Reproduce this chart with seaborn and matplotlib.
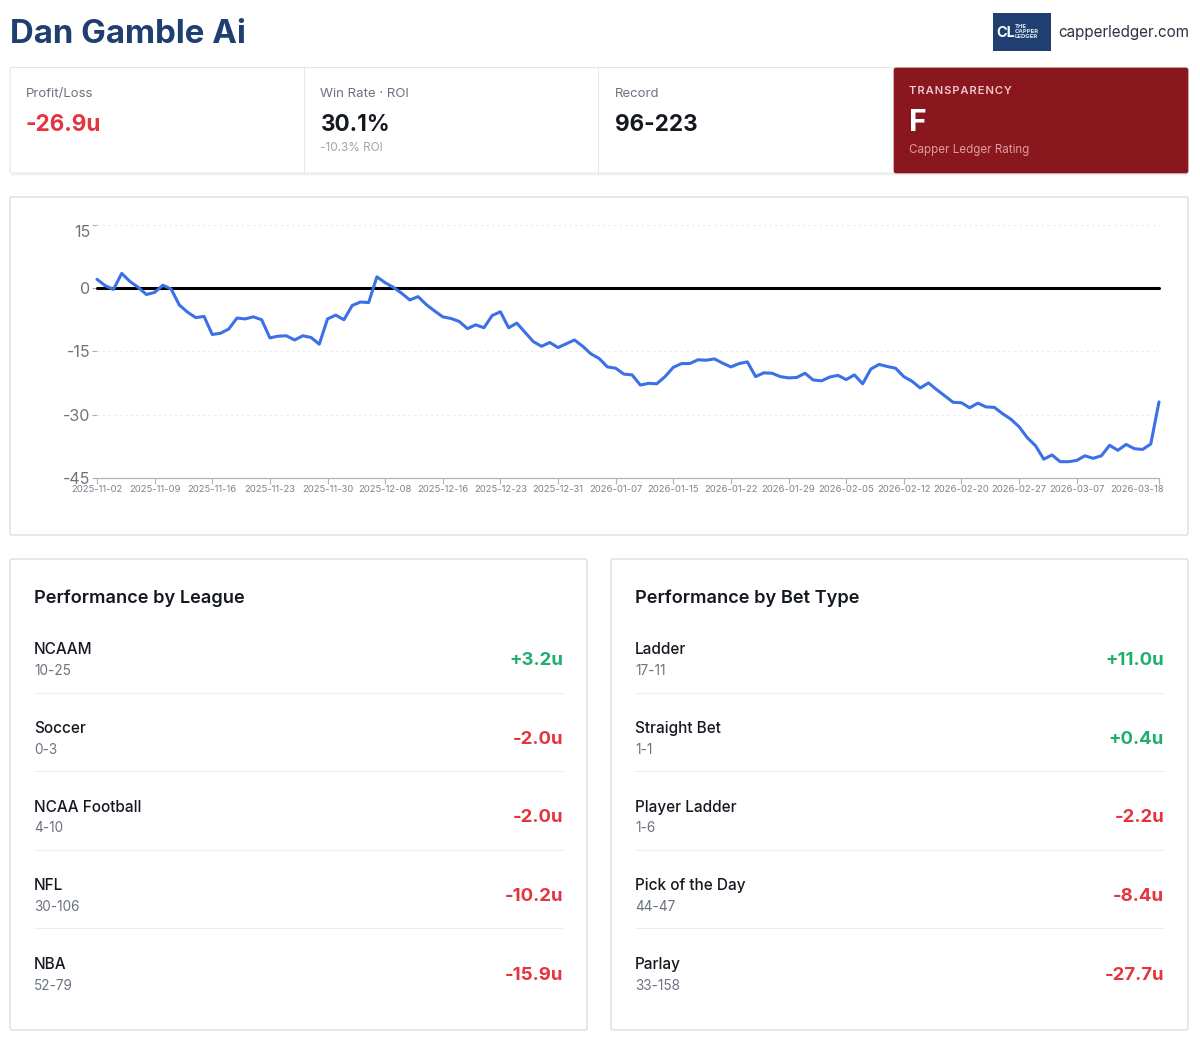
import numpy as np
import pandas as pd
import matplotlib
matplotlib.use("Agg")
import matplotlib.pyplot as plt
from matplotlib.patches import FancyBboxPatch, Rectangle
from matplotlib.transforms import ScaledTranslation
import seaborn as sns

# cumulative units, one point per bet day
units = [2.1, 0.6, -0.3, 3.5, 1.6, 0.2, -1.5, -1.0, 0.7, -0.2,
         -4.0, -5.7, -7.0, -6.7, -11.0, -10.7, -9.7, -7.1, -7.3, -6.8,
         -7.5, -11.8, -11.4, -11.3, -12.3, -11.3, -11.7, -13.3, -7.3, -6.4,
         -7.5, -4.1, -3.3, -3.4, 2.7, 1.3, 0.2, -1.2, -2.8, -2.0,
         -3.9, -5.4, -6.8, -7.2, -7.9, -9.6, -8.7, -9.4, -6.5, -5.6,
         -9.4, -8.3, -10.5, -12.7, -13.8, -12.9, -14.1, -13.2, -12.3, -13.8,
         -15.6, -16.7, -18.7, -19.0, -20.4, -20.6, -23.0, -22.6, -22.7, -21.0,
         -18.8, -17.9, -17.9, -17.0, -17.1, -16.8, -17.8, -18.7, -17.9, -17.5,
         -21.0, -20.1, -20.2, -21.0, -21.3, -21.2, -20.2, -21.8, -22.0, -21.1,
         -20.7, -21.7, -20.6, -22.7, -19.2, -18.1, -18.6, -19.0, -21.0, -22.1,
         -23.7, -22.5, -24.1, -25.6, -27.1, -27.2, -28.4, -27.3, -28.2, -28.3,
         -29.8, -31.1, -32.9, -35.5, -37.4, -40.6, -39.6, -41.2, -41.2, -40.9,
         -39.8, -40.4, -39.8, -37.3, -38.5, -37.1, -38.1, -38.3, -37.0, -27.0]
date_ticks = ["2025-11-02", "2025-11-09", "2025-11-16", "2025-11-23", "2025-11-30",
              "2025-12-08", "2025-12-16", "2025-12-23", "2025-12-31", "2026-01-07",
              "2026-01-15", "2026-01-22", "2026-01-29", "2026-02-05", "2026-02-12",
              "2026-02-20", "2026-02-27", "2026-03-07", "2026-03-18"]
date_tick_idx = [0, 7, 14, 21, 28, 35, 42, 49, 56, 63, 70, 77, 84, 91, 98, 105, 112, 119, 129]
y_ticks = [15, 0, -15, -30, -45]

league_names = ["NCAAM", "Soccer", "NCAA Football", "NFL", "NBA"]
league_records = ["10-25", "0-3", "4-10", "30-106", "52-79"]
league_units = [3.2, -2.0, -2.0, -10.2, -15.9]

bet_names = ["Ladder", "Straight Bet", "Player Ladder", "Pick of the Day", "Parlay"]
bet_records = ["17-11", "1-1", "1-6", "44-47", "33-158"]
bet_units = [11.0, 0.4, -2.2, -8.4, -27.7]

NAVY = "#1e3f70"
RED = "#e5343f"
GREEN = "#1fae6e"
DARK = "#14181f"
GRAY = "#6b7280"
LIGHT = "#9ca3af"
BORDER = "#d4d7dc"

sns.set_theme(style="white")
plt.rcParams["font.family"] = ["Inter", "DejaVu Sans"]
plt.rcParams["axes.unicode_minus"] = False

fig = plt.figure(figsize=(12, 10.41), dpi=100, facecolor="white")

# whole page in pixel coordinates
bg = fig.add_axes([0, 0, 1, 1])
bg.set_xlim(0, 1200)
bg.set_ylim(1041, 0)
bg.axis("off")


def px(size):
    return size * 0.72


def card(x0, y0, x1, y1, edge=BORDER, face="white", lw=0.75, z=1):
    p = FancyBboxPatch((x0, y0), x1 - x0, y1 - y0, boxstyle="round,pad=0,rounding_size=2",
                       fc=face, ec=edge, lw=lw, zorder=z)
    bg.add_patch(p)


def label(x, y, s, size, color, weight="normal", ha="left", spacing=1.2):
    # inter sits a little high when centred, nudge it down
    bg.text(x, y + size * 0.09, s, fontsize=px(size), color=color, fontweight=weight,
            ha=ha, va="center", zorder=3, linespacing=spacing)


# header
label(10, 32, "Dan Gamble Ai", 33, NAVY, "bold")
bg.add_patch(Rectangle((993, 13), 58, 38, fc=NAVY, ec="none"))
label(996, 31.5, "CL", 14.5, "white", "bold")
label(1014.5, 31, "THE\nCAPPER\nLEDGER", 6, "#dfe6f0", "bold", spacing=0.95)
label(1058, 31, "capperledger.com", 15.2, "#2b3340")

# stat strip
card(10, 67.5, 1188, 173, edge="#e3e5e8")
bg.plot([10.5, 1187], [173.8, 173.8], color="#eceef0", lw=1, zorder=0)
for xx in [304, 598]:
    bg.plot([xx, xx], [68, 172.5], color="#e5e7eb", lw=0.75, zorder=2)
card(894, 68, 1188, 173, edge="#8a161e", face="#8a161e", lw=0.5, z=2)

label(26, 93, "Profit/Loss", 13.2, GRAY)
label(25.5, 122.5, "-26.9u", 22.5, RED, "bold")
label(320.5, 93, "Win Rate · ROI", 13.2, GRAY)
label(320.5, 122.5, "30.1%", 22.5, DARK, "bold")
label(320.5, 147, "-10.3% ROI", 11.7, LIGHT)
label(614.5, 93, "Record", 13.2, GRAY)
label(614.5, 122.5, "96-223", 22.5, DARK, "bold")
label(909, 90, "\u200a".join("TRANSPARENCY"), 11.2, "#eec9cb", "semibold")
label(909, 120.5, "F", 30, "white", "bold")
label(909, 148.5, "Capper Ledger Rating", 11.6, "#dc9ea2")

# chart
card(10, 197, 1188, 535, edge="#d0d3d8")
ax = fig.add_axes([97 / 1200, 1 - 477.7 / 1041, (1159 - 97) / 1200, (477.7 - 225) / 1041])
ax.patch.set_alpha(0)

pl = pd.DataFrame({"idx": np.arange(len(units)), "units": units})
for t in [15, -15, -30]:
    ax.axhline(t, color="#e9ebee", lw=0.8, ls=(0, (2, 3)), zorder=1)
zero = pd.DataFrame({"idx": [pl["idx"].min(), pl["idx"].max()], "units": [0, 0]})
sns.lineplot(data=zero, x="idx", y="units", color="black", lw=2.2, ax=ax, zorder=2)
sns.lineplot(data=pl, x="idx", y="units", color="#3b70e6", lw=2.2, ax=ax, zorder=3)

ax.set_xlim(pl["idx"].min(), pl["idx"].max())
ax.set_ylim(min(y_ticks), max(y_ticks))
ax.set_xlabel("")
ax.set_ylabel("")
ax.set_xticks(date_tick_idx)
ax.set_xticklabels(date_ticks, fontsize=px(9.5), color="#7d838c")
ax.set_yticks(y_ticks)
ax.set_yticklabels([str(t) for t in y_ticks], fontsize=px(16), color="#6f747c")
ax.tick_params(axis="x", length=4, width=0.8, color="#b0b4ba", pad=1.5, bottom=True)
ax.tick_params(axis="y", length=3.5, width=0.8, color="#a8acb2", pad=1.5, left=True)
ax.get_yticklabels()[0].set_verticalalignment("top")
# last date label is pulled back inside the card like the original
last = ax.get_xticklabels()[-1]
last.set_horizontalalignment("right")
last.set_transform(last.get_transform() + ScaledTranslation(0.05, 0, fig.dpi_scale_trans))
sns.despine(ax=ax, left=True, top=True, right=True)
ax.spines["bottom"].set_color("#b0b4ba")
ax.spines["bottom"].set_linewidth(0.9)
for line in ax.get_lines():
    line.set_clip_on(False)


# bottom panels
def panel(x0, x1, title, names, records, vals):
    card(x0, 559, x1, 1030, edge="#d0d3d8")
    label(x0 + 24, 597, title, 18.2, DARK, "semibold")
    for i, (name, rec, v) in enumerate(zip(names, records, vals)):
        y = 649 + 78.6 * i
        label(x0 + 24, y - 0.5, name, 15.3, DARK, "medium")
        label(x0 + 24, y + 21, rec, 13.6, GRAY)
        txt = f"{v:+.1f}u"
        label(x1 - 24, y + 10, txt, 18.6, GREEN if v > 0 else RED, "bold", ha="right")
        if i < len(names) - 1:
            bg.plot([x0 + 24, x1 - 24], [y + 43.5, y + 43.5], color="#eceef0", lw=0.75, zorder=2)


panel(10, 587, "Performance by League", league_names, league_records, league_units)
panel(611, 1188, "Performance by Bet Type", bet_names, bet_records, bet_units)

fig.savefig("out.png", dpi=100, facecolor="white")
